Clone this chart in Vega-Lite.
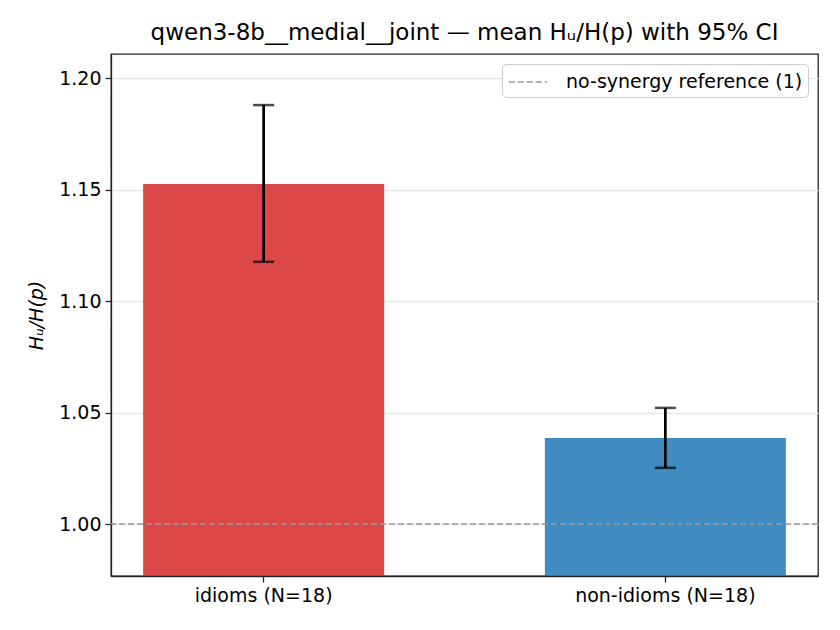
{
  "$schema": "https://vega.github.io/schema/vega-lite/v6.json",
  "autosize": {"type": "none"},
  "padding": {"left": 111, "top": 54, "right": 22, "bottom": 54},
  "width": 707,
  "height": 522,
  "background": "white",
  "title": {
    "text": "qwen3-8b__medial__joint — mean Hᵤ/H(p) with 95% CI",
    "font": "DejaVu Sans",
    "fontSize": 23,
    "fontWeight": "normal",
    "color": "black",
    "anchor": "middle",
    "offset": 9
  },
  "config": {
    "font": "DejaVu Sans",
    "view": {"stroke": "#222222", "strokeWidth": 1.3},
    "axis": {
      "labelFont": "DejaVu Sans",
      "labelFontSize": 19,
      "labelColor": "black",
      "labelLimit": 400,
      "tickColor": "#222222",
      "tickSize": 6,
      "tickWidth": 1.3,
      "domainColor": "#222222",
      "domainWidth": 1.3
    }
  },
  "data": {
    "values": [
      {"group": "idioms (N=18)", "mean": 1.1525, "lo": 1.1176, "hi": 1.1879},
      {"group": "non-idioms (N=18)", "mean": 1.0386, "lo": 1.0252, "hi": 1.0521}
    ]
  },
  "encoding": {
    "x": {
      "field": "group",
      "type": "nominal",
      "sort": null,
      "title": null,
      "scale": {"paddingInner": 0.4, "paddingOuter": 0.08},
      "axis": {"labelAngle": 0, "labelPadding": 4, "labelFontSize": 19, "labelLimit": 400, "grid": false}
    }
  },
  "layer": [
    {
      "mark": {"type": "bar", "opacity": 0.85, "clip": true},
      "encoding": {
        "y": {
          "field": "mean",
          "type": "quantitative",
          "title": "Hᵤ/H(p)",
          "scale": {"domain": [0.9767, 1.2108], "zero": false, "nice": false},
          "axis": {
            "values": [1.0, 1.05, 1.1, 1.15, 1.2],
            "format": ".2f",
            "labelFontSize": 19,
            "labelPadding": 4,
            "grid": true,
            "gridColor": "#e6e6e6",
            "gridWidth": 1.3,
            "titleFont": "DejaVu Sans",
            "titleFontSize": 19,
            "titleFontWeight": "normal",
            "titleFontStyle": "italic",
            "titleColor": "black",
            "titlePadding": 12
          }
        },
        "y2": {"datum": 0.9767},
        "fill": {
          "field": "group",
          "type": "nominal",
          "scale": {"range": ["#d62728", "#1f77b4"]},
          "legend": null
        }
      }
    },
    {
      "mark": {"type": "rule", "color": "black", "strokeWidth": 2.7},
      "encoding": {
        "y": {"field": "lo", "type": "quantitative"},
        "y2": {"field": "hi"}
      }
    },
    {
      "mark": {"type": "tick", "color": "black", "size": 21, "thickness": 2.5, "orient": "horizontal"},
      "encoding": {"y": {"field": "lo", "type": "quantitative"}}
    },
    {
      "mark": {"type": "tick", "color": "black", "size": 21, "thickness": 2.5, "orient": "horizontal"},
      "encoding": {"y": {"field": "hi", "type": "quantitative"}}
    },
    {
      "data": {"values": [{"ref": 1, "label": "no-synergy reference (1)"}]},
      "mark": {"type": "rule", "strokeDash": [6, 3], "strokeWidth": 1.6},
      "encoding": {
        "x": null,
        "y": {"field": "ref", "type": "quantitative"},
        "stroke": {
          "field": "label",
          "type": "nominal",
          "scale": {"range": ["#999999"]},
          "legend": {
            "title": null,
            "orient": "top-right",
            "offset": 10,
            "symbolType": "M-1.6,0H1.6",
            "symbolDash": [6, 3],
            "symbolStrokeWidth": 1.6,
            "symbolSize": 576,
            "symbolOffset": 8,
            "labelFontSize": 19,
            "labelLimit": 400,
            "labelOffset": 25,
            "labelColor": "black",
            "labelFont": "DejaVu Sans",
            "strokeColor": "#cccccc",
            "fillColor": "white",
            "padding": 5,
            "cornerRadius": 4
          }
        }
      }
    }
  ]
}
